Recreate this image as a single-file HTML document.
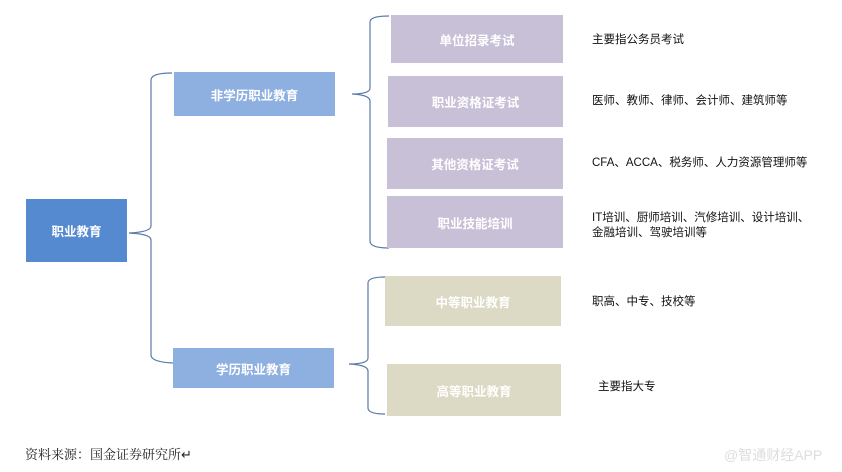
<!DOCTYPE html>
<html><head><meta charset="utf-8"><style>
body{margin:0;width:842px;height:472px;background:#fff;position:relative;overflow:hidden;font-family:"Liberation Sans","Noto Sans CJK SC",sans-serif}
.b{position:absolute;color:#fff;font-size:12.5px;font-weight:bold;display:flex;align-items:center;justify-content:center}
.p{background:#c8c0d6}.g{background:#dcd9c4}
.t{position:absolute;font-size:11.5px;color:#111;line-height:15px}
</style></head><body>
<svg width="842" height="472" style="position:absolute;left:0;top:0" fill="none" stroke="#5a7aa8" stroke-width="1.2">
<path d="M172,73 Q151,73 151,80 L151,226 Q151,232 129,233 Q151,234 151,240 L151,355 Q151,362 173,363"/>
<path d="M389,16 Q370,16 370,22 L370,88 Q370,94 352,94 Q370,95 370,101 L370,241 Q370,248 389,248"/>
<path d="M385,277 Q368,277 368,283 L368,358 Q368,364 349,364 Q368,365 368,371 L368,408 Q368,414 385,414"/>
</svg>
<div class="b" style="left:26px;top:199px;width:101px;height:63px;background:#558ad0">职业教育</div>
<div class="b" style="left:174px;top:72px;width:161px;height:44px;background:#8eb0e0">非学历职业教育</div>
<div class="b" style="left:173px;top:348px;width:161px;height:40px;background:#8eb0e0">学历职业教育</div>
<div class="b p" style="left:391px;top:15px;width:172px;height:48px">单位招录考试</div>
<div class="b p" style="left:388px;top:76px;width:175px;height:51px">职业资格证考试</div>
<div class="b p" style="left:387px;top:138px;width:176px;height:51px">其他资格证考试</div>
<div class="b p" style="left:387px;top:196px;width:176px;height:52px">职业技能培训</div>
<div class="b g" style="left:385px;top:276px;width:176px;height:50px">中等职业教育</div>
<div class="b g" style="left:387px;top:364px;width:174px;height:52px">高等职业教育</div>
<div class="t" style="left:592px;top:33px">主要指公务员考试</div>
<div class="t" style="left:592px;top:94px">医师、教师、律师、会计师、建筑师等</div>
<div class="t" style="left:592px;top:156px">CFA、ACCA、税务师、人力资源管理师等</div>
<div class="t" style="left:592px;top:211px">IT培训、厨师培训、汽修培训、设计培训、<br>金融培训、驾驶培训等</div>
<div class="t" style="left:592px;top:295px">职高、中专、技校等</div>
<div class="t" style="left:598px;top:380px">主要指大专</div>
<div style="position:absolute;left:25px;top:444px;font-size:13px;font-family:'Liberation Serif','Noto Serif CJK SC',serif;color:#222">资料来源：国金证券研究所↵</div>
<div style="position:absolute;left:724px;top:445px;font-size:14px;color:#ddd">@智通财经APP</div>
</body></html>
